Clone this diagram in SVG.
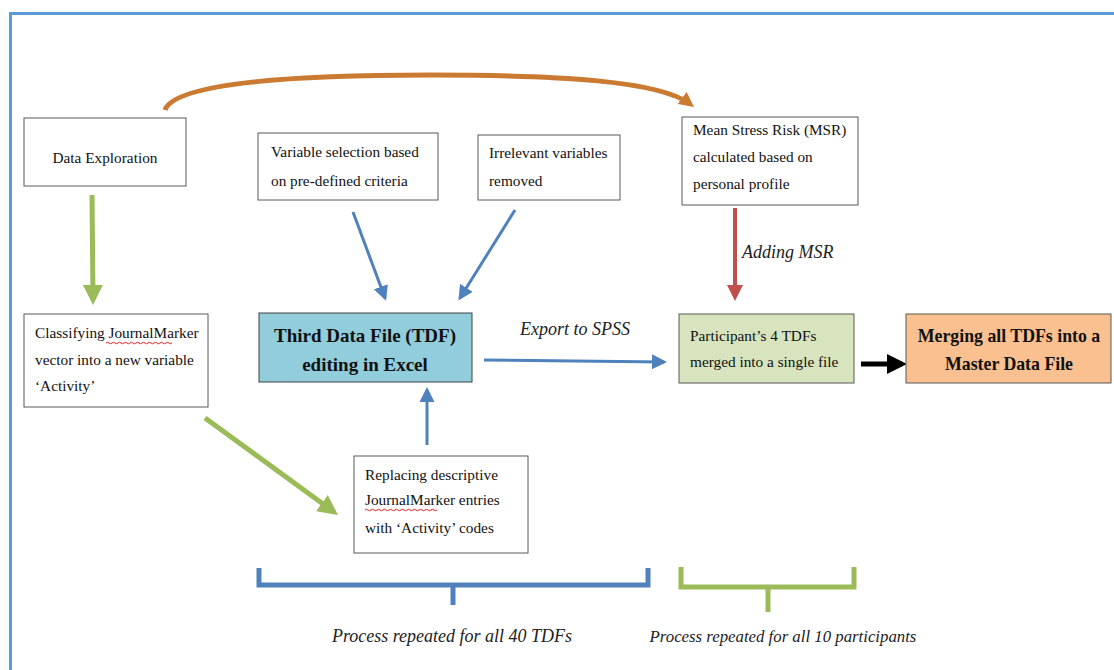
<svg xmlns="http://www.w3.org/2000/svg" width="1114" height="670" viewBox="0 0 1114 670">
<defs>
<style>
.box{fill:#fff;stroke:#595959;stroke-width:1}
.t{font-family:"Liberation Serif",serif;font-size:15.3px;fill:#111}
.b{font-family:"Liberation Serif",serif;font-size:19px;font-weight:bold;fill:#111;text-anchor:middle}
.i{font-family:"Liberation Serif",serif;font-style:italic;font-size:18px;fill:#222}
.blue{stroke:#4F81BD;stroke-width:3;fill:none}
.green{stroke:#9BBB59;stroke-width:5;fill:none}
</style>
<marker id="ab" markerWidth="5" markerHeight="5" refX="4" refY="2.5" orient="auto" markerUnits="strokeWidth"><path d="M0,0 L5,2.5 L0,5 z" fill="#4F81BD"/></marker>
<marker id="ag" markerWidth="4" markerHeight="4" refX="3" refY="2" orient="auto" markerUnits="strokeWidth"><path d="M0,0 L4,2 L0,4 z" fill="#9BBB59"/></marker>
<marker id="ar" markerWidth="4" markerHeight="4" refX="3" refY="2" orient="auto" markerUnits="strokeWidth"><path d="M0,0 L4,2 L0,4 z" fill="#C0504D"/></marker>
<marker id="ao" markerWidth="3" markerHeight="3" refX="2" refY="1.5" orient="auto" markerUnits="strokeWidth"><path d="M0,0 L3,1.5 L0,3 z" fill="#CB7A32"/></marker>
<marker id="ak" markerWidth="4" markerHeight="4" refX="3" refY="2" orient="auto" markerUnits="strokeWidth"><path d="M0,0 L4,2 L0,4 z" fill="#000"/></marker>
</defs>
<rect width="1114" height="670" fill="#fff"/>
<path d="M10.5,670 L10.5,13.5 L1114,13.5" fill="none" stroke="#5B9BD5" stroke-width="3"/>

<g id="connectors">
<path d="M165,110 C175,82 300,75 430,75 C560,75 660,81 690,104" fill="none" stroke="#CB7A32" stroke-width="5" marker-end="url(#ao)"/>
<line x1="92" y1="195" x2="93" y2="300" class="green" marker-end="url(#ag)"/>
<line x1="205" y1="418" x2="334" y2="512" class="green" marker-end="url(#ag)"/>
<line x1="353" y1="212" x2="385" y2="298" class="blue" marker-end="url(#ab)"/>
<line x1="515" y1="210" x2="460" y2="298" class="blue" marker-end="url(#ab)"/>
<line x1="427" y1="445" x2="427" y2="390" class="blue" marker-end="url(#ab)"/>
<line x1="484" y1="360" x2="664" y2="362" class="blue" marker-end="url(#ab)"/>
<line x1="735" y1="208" x2="735" y2="297" stroke="#C0504D" stroke-width="4" marker-end="url(#ar)"/>
<line x1="861" y1="364" x2="902" y2="364" stroke="#000" stroke-width="5" marker-end="url(#ak)"/>
<path d="M259,568 L259,585 L648,585 L648,568 M453,585 L453,605" fill="none" stroke="#4F81BD" stroke-width="5"/>
<path d="M681,567 L681,587 L854,587 L854,567 M768,587 L768,612" fill="none" stroke="#9BBB59" stroke-width="5"/>
</g>

<g id="data-exploration">
<rect x="24" y="118" width="162" height="68" class="box"/>
<text x="105" y="163" class="t" text-anchor="middle">Data Exploration</text>
</g>

<g id="variable-selection">
<rect x="258" y="133" width="180" height="67" class="box"/>
<text x="271" y="157" class="t">Variable selection based</text>
<text x="271" y="186" class="t">on pre-defined criteria</text>
</g>

<g id="irrelevant">
<rect x="478" y="135" width="142" height="65" class="box"/>
<text x="489" y="158" class="t">Irrelevant variables</text>
<text x="489" y="186" class="t">removed</text>
</g>

<g id="msr">
<rect x="682" y="117" width="176" height="88" class="box"/>
<text x="693" y="135" class="t">Mean Stress Risk (MSR)</text>
<text x="693" y="162" class="t">calculated based on</text>
<text x="693" y="189" class="t">personal profile</text>
</g>

<g id="classifying">
<rect x="24" y="314" width="184" height="93" class="box"/>
<text x="35" y="338" class="t">Classifying JournalMarker</text>
<path d="M106,343 q1.5,-1.5 3,0 t3,0 t3,0 t3,0 t3,0 t3,0 t3,0 t3,0 t3,0 t3,0 t3,0 t3,0 t3,0 t3,0 t3,0 t3,0 t3,0 t3,0 t3,0 t3,0 t3,0 t3,0" fill="none" stroke="#E02020" stroke-width="1"/>
<text x="35" y="365" class="t">vector into a new variable</text>
<text x="35" y="391" class="t">‘Activity’</text>
</g>

<g id="tdf">
<rect x="259" y="313" width="213" height="69" fill="#92CDDC" stroke="#404040" stroke-width="1"/>
<text x="365" y="342" class="b">Third Data File (TDF)</text>
<text x="365" y="371" class="b">editing in Excel</text>
</g>

<g id="participant">
<rect x="679" y="314" width="175" height="69" fill="#D7E4BD" stroke="#595959" stroke-width="1"/>
<text x="690" y="341" class="t">Participant’s 4 TDFs</text>
<text x="690" y="367" class="t">merged into a single file</text>
</g>

<g id="master">
<rect x="906" y="314" width="205" height="69" fill="#FAC090" stroke="#595959" stroke-width="1"/>
<text x="1009" y="342" class="b" style="font-size:17.8px">Merging all TDFs into a</text>
<text x="1009" y="370" class="b" style="font-size:17.8px">Master Data File</text>
</g>

<g id="replacing">
<rect x="354" y="456" width="174" height="97" class="box"/>
<text x="365" y="480" class="t">Replacing descriptive</text>
<text x="365" y="505" class="t">JournalMarker entries</text>
<path d="M365,510 q1.5,-1.5 3,0 t3,0 t3,0 t3,0 t3,0 t3,0 t3,0 t3,0 t3,0 t3,0 t3,0 t3,0 t3,0 t3,0 t3,0 t3,0 t3,0 t3,0 t3,0 t3,0 t3,0 t3,0 t3,0 t3,0" fill="none" stroke="#E02020" stroke-width="1"/>
<text x="365" y="533" class="t">with ‘Activity’ codes</text>
</g>

<g id="labels">
<text x="520" y="335" class="i">Export to SPSS</text>
<text x="742" y="258" class="i">Adding MSR</text>
<text x="452" y="642" class="i" text-anchor="middle">Process repeated for all 40 TDFs</text>
<text x="783" y="642" class="i" text-anchor="middle" style="font-size:16.8px">Process repeated for all 10 participants</text>
</g>
</svg>
